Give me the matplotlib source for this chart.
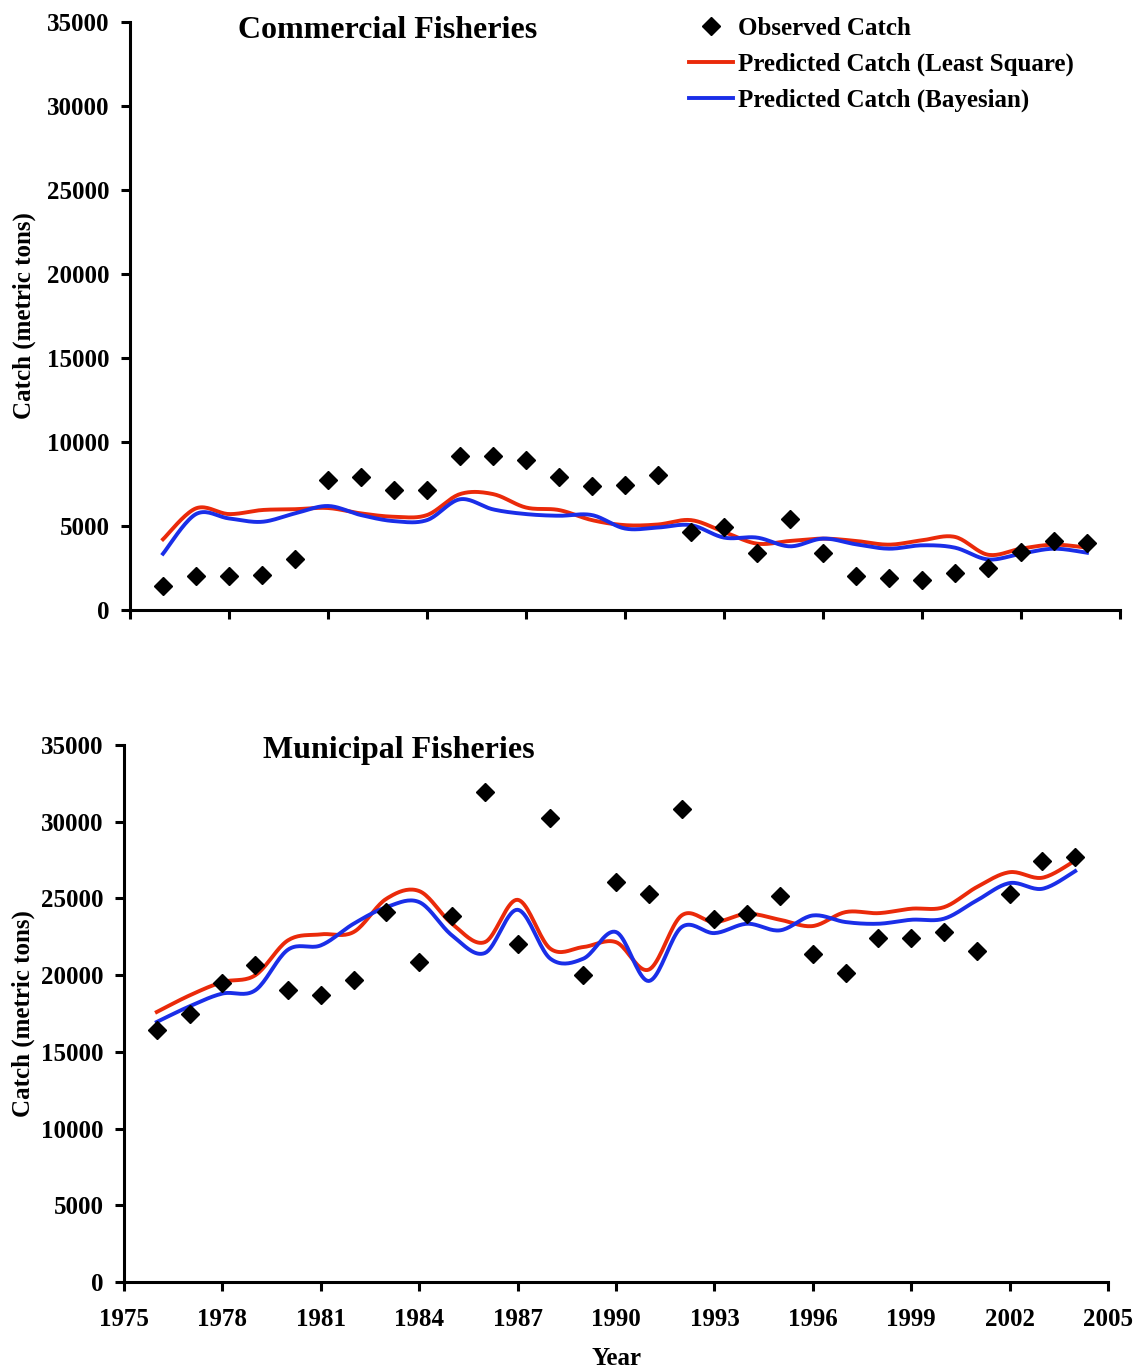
import numpy as np
import matplotlib
matplotlib.use("Agg")
import matplotlib.pyplot as plt

plt.rcParams['font.family'] = ['Liberation Serif', 'DejaVu Serif']
plt.rcParams['font.weight'] = 'bold'

years = list(range(1976, 2005))

com_obs = [1400, 2050, 2010, 2100, 3050, 7720, 7920, 7140, 7140, 9140, 9140, 8920, 7940, 7380,
           7440, 8040, 4650, 4950, 3410, 5390, 3390, 2010, 1920, 1810, 2220, 2510, 3450, 4110, 3990]
com_ls = [4210, 6050, 5710, 5950, 6000, 6070, 5750, 5550, 5650, 6900, 6900, 6100, 5950, 5350,
          5050, 5090, 5350, 4650, 3950, 4110, 4250, 4110, 3890, 4150, 4350, 3290, 3650, 3890, 3710]
com_bay = [3350, 5710, 5450, 5250, 5750, 6190, 5650, 5290, 5350, 6590, 5990, 5710, 5610, 5650,
           4850, 4910, 5050, 4310, 4310, 3790, 4250, 3910, 3650, 3850, 3710, 3010, 3350, 3650, 3410]

mun_obs = [16410, 17450, 19510, 20640, 19010, 18730, 19660, 24110, 20850, 23850, 31920, 22000, 30250, 19990,
           26060, 25260, 30840, 23680, 23960, 25150, 21350, 20160, 22440, 22440, 22810, 21550, 25310, 27470, 27730]
mun_ls = [17600, 18680, 19550, 19990, 22270, 22660, 22810, 24980, 25480, 23350, 22150, 24910, 21720, 21830,
          22150, 20360, 23890, 23460, 24000, 23610, 23200, 24110, 24040, 24330, 24430, 25740, 26710, 26350, 27470]
mun_bay = [16950, 17970, 18800, 19010, 21660, 21940, 23350, 24430, 24760, 22590, 21440, 24260, 21070, 21070,
           22810, 19620, 23130, 22740, 23350, 22920, 23890, 23460, 23350, 23610, 23680, 24870, 26000, 25630, 26780]

xticks = list(range(1975, 2006, 3))
yticks = list(range(0, 35001, 5000))

legend_labels = ['Observed Catch', 'Predicted Catch (Least Square)', 'Predicted Catch (Bayesian)']
titles = ['Commercial Fisheries', 'Municipal Fisheries']

RED = '#EA2A0A'
BLUE = '#1A2EE8'


def smooth(x, y, n=20):
    x = np.asarray(x, float)
    y = np.asarray(y, float)
    P = np.column_stack([x, y])
    P = np.vstack([P[0], P, P[-1]])
    out = []
    t = np.linspace(0, 1, n, endpoint=False)[:, None]
    for i in range(1, len(P) - 2):
        p0, p1, p2, p3 = P[i - 1], P[i], P[i + 1], P[i + 2]
        seg = 0.5 * ((2 * p1) + (-p0 + p2) * t + (2 * p0 - 5 * p1 + 4 * p2 - p3) * t ** 2
                     + (-p0 + 3 * p1 - 3 * p2 + p3) * t ** 3)
        out.append(seg)
    out.append(P[-2][None, :])
    out = np.vstack(out)
    return out[:, 0], out[:, 1]


fig = plt.figure(figsize=(11.37, 13.70), dpi=100)
ax1 = fig.add_axes([130 / 1137, 1 - 610 / 1370, 990 / 1137, 588 / 1370])
ax2 = fig.add_axes([124 / 1137, 1 - 1282 / 1370, 984 / 1137, 537 / 1370])

FS = 18
for ax, obs, ls, bay, title, tpos, show_x in [
        (ax1, com_obs, com_ls, com_bay, titles[0], (0.26, 0.986), False),
        (ax2, mun_obs, mun_ls, mun_bay, titles[1], (0.279, 0.99), True)]:
    xs, ys = smooth(years, ls)
    ax.plot(xs, ys, color=RED, lw=2.8, label=legend_labels[1], zorder=2)
    xs, ys = smooth(years, bay)
    ax.plot(xs, ys, color=BLUE, lw=2.8, label=legend_labels[2], zorder=3)
    ax.plot(years, obs, linestyle='none', marker='D', color='black', markersize=9,
            label=legend_labels[0], zorder=4)
    ax.set_xlim(1975, 2005)
    ax.set_ylim(0, 35000)
    ax.set_xticks(xticks)
    ax.set_yticks(yticks)
    ax.spines['top'].set_visible(False)
    ax.spines['right'].set_visible(False)
    for s in ['left', 'bottom']:
        ax.spines[s].set_linewidth(2.2)
    ax.tick_params(axis='both', direction='out', length=6.5, width=2.2, labelsize=FS)
    ax.tick_params(axis='y', pad=8)
    ax.tick_params(axis='x', pad=12)
    for lab in ax.get_yticklabels():
        lab.set_fontweight('bold')
    if show_x:
        for lab in ax.get_xticklabels():
            lab.set_fontweight('bold')
        ax.set_xlabel('Year', fontsize=FS, fontweight='bold', labelpad=12)
    else:
        ax.set_xticklabels([])
    ax.set_ylabel('Catch (metric tons)', fontsize=FS, fontweight='bold')
    ax.text(tpos[0], tpos[1], title, transform=ax.transAxes, ha='center', va='center',
            fontsize=23, fontweight='bold')

h, l = ax1.get_legend_handles_labels()
order = [2, 0, 1]
leg = ax1.legend([h[i] for i in order], [l[i] for i in order], loc='upper left',
                 bbox_to_anchor=(0.5646, 1.0085), frameon=False,
                 handlelength=1.75, handletextpad=0.2, labelspacing=0.5,
                 borderpad=0, borderaxespad=0, prop={'weight': 'bold', 'size': FS})

ax1.yaxis.set_label_coords(-0.095, 0.5)
ax2.yaxis.set_label_coords(-0.09, 0.5)

fig.savefig('out.png', dpi=100)
